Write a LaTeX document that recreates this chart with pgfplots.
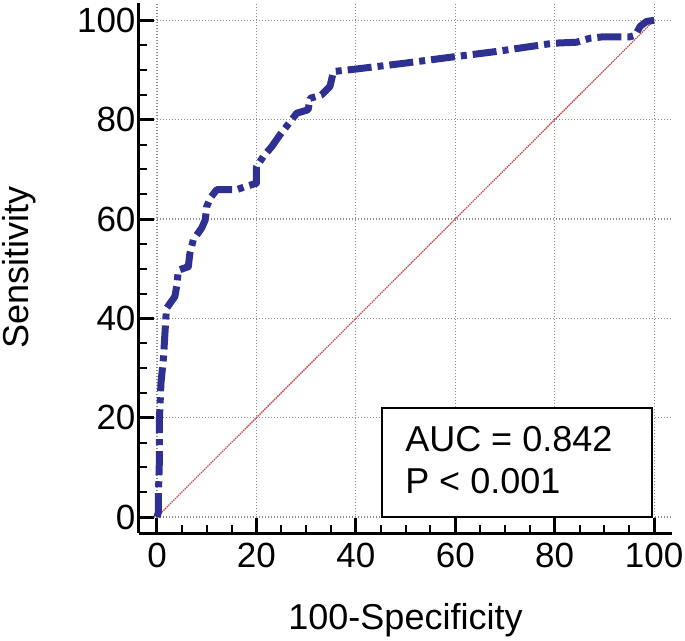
\documentclass[border=0pt]{standalone}
\usepackage{fontspec}
\setmainfont{Liberation Sans}
\usepackage{pgfplots}
\pgfplotsset{compat=1.18}
\definecolor{rocblue}{RGB}{46,49,146}
\definecolor{diagred}{RGB}{195,80,80}
\definecolor{gridgray}{RGB}{140,140,140}
\begin{document}
\begin{tikzpicture}
\begin{axis}[
  at={(0,0)}, anchor=south west,
  scale only axis,
  width=533pt, height=530pt,
  xmin=-3.62, xmax=103.6,
  ymin=-3.22, ymax=103.5,
  axis x line=bottom, axis y line=left,
  axis line style={-, line width=3pt, black},
  xtick={0,20,40,60,80,100},
  ytick={0,20,40,60,80,100},
  minor x tick num=3, minor y tick num=3,
  tick align=inside,
  major tick length=15pt, minor tick length=8pt,
  tick style={black},
  major tick style={black, line width=3pt},
  minor tick style={black, line width=2pt},
  grid=major,
  major grid style={gridgray, line width=1.2pt, dash pattern=on 1.2pt off 1.8pt},
  /pgf/number format/assume math mode=true,
  tick label style={font=\fontsize{35}{42}\selectfont},
  xticklabel style={yshift=-7pt},
  xlabel={100-Specificity},
  ylabel={Sensitivity},
  label style={font=\fontsize{36}{43}\selectfont},
  xlabel style={at={(axis description cs:0.5,-0.183)}, anchor=base},
  ylabel style={at={(axis description cs:-0.2077,0.501)}, anchor=base, rotate=0},
  clip=false,
]
\addplot[color=diagred, line width=1.3pt, dash pattern=on 1.5pt off 0.8pt] coordinates {(0,0) (100,100)};
\addplot[color=rocblue, line width=7pt, line cap=butt, line join=round,
  dash pattern=on 24pt off 6pt on 6pt off 6pt] coordinates {
(0,0) (0.3,1) (0.3,5) (0.5,12) (0.5,20) (0.8,27) (1.3,32) (1.6,37) (1.9,42)
(3.6,44.4) (4,46.7) (4.3,49.7) (6.3,50.4) (6.6,53) (7.3,55.8) (9,58.2) (9.7,59.8)
(10,62.5) (10.7,64.2) (12,65.9) (16,65.9) (17.7,66.5) (20,67.2) (20,70.5)
(21.4,72.6) (23.1,74.6) (24.7,76.9) (26.8,79.6) (28.1,81.3) (30.4,82) (30.8,84.3)
(33.1,85) (34.8,86.7) (35.5,89.7) (38.2,90) (40,90.2) (50,91.4) (60,92.7)
(68,93.7) (79.7,95.4) (84.4,95.6) (87.1,96.4) (89.8,96.7) (95.2,96.7) (96.2,97)
(97.2,98.8) (98.5,99.8) (100,100)
};
\draw[line width=2.3pt, fill=white] (axis cs:45.2,0) rectangle (axis cs:99.6,22);
\node[anchor=base west, inner sep=0pt, font=\fontsize{36}{43}\selectfont] at (axis cs:49.9,13.15) {AUC = 0.842};
\node[anchor=base west, inner sep=0pt, font=\fontsize{36}{43}\selectfont] at (axis cs:49.9,4.77) {P < 0.001};
\end{axis}
\pgfresetboundingbox
\useasboundingbox (-139pt,-107pt) rectangle (546pt,533pt);
\end{tikzpicture}
\end{document}
